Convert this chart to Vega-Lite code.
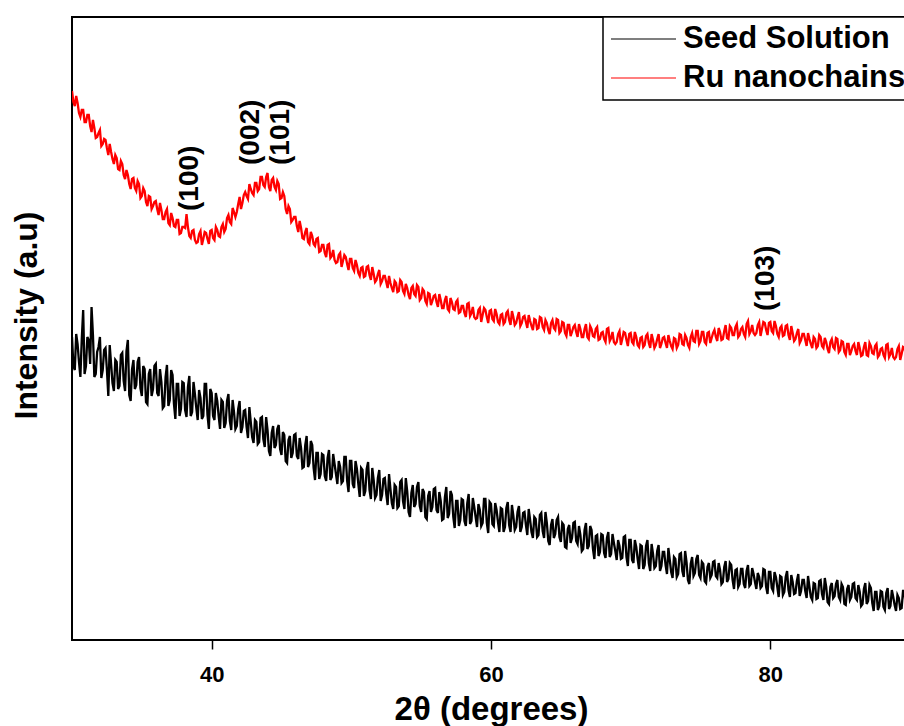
{
  "$schema": "https://vega.github.io/schema/vega-lite/v6.json",
  "autosize": "none",
  "padding": {"left": 72, "top": 17, "right": 0, "bottom": 86},
  "width": 838,
  "height": 623,
  "background": "white",
  "config": {
    "view": {"stroke": "black", "strokeWidth": 2},
    "font": "Liberation Sans",
    "legend": {"strokeWidth": 1.5}
  },
  "datasets": {
    "xrd": [
      {"x":30.0,"s":303,"r":549},{"x":30.2,"s":270,"r":534},{"x":30.4,"s":296,"r":537},{"x":30.6,"s":263,"r":523},{"x":30.8,"s":330,"r":530},
      {"x":31.0,"s":274,"r":518},{"x":31.2,"s":300,"r":525},{"x":31.4,"s":333,"r":508},{"x":31.6,"s":263,"r":512},{"x":31.8,"s":288,"r":503},
      {"x":32.0,"s":303,"r":510},{"x":32.2,"s":270,"r":496},{"x":32.4,"s":292,"r":500},{"x":32.6,"s":244,"r":485},{"x":32.8,"s":276,"r":488},
      {"x":33.0,"s":249,"r":476},{"x":33.2,"s":278,"r":482},{"x":33.4,"s":254,"r":470},{"x":33.6,"s":287,"r":476},{"x":33.8,"s":249,"r":461},
      {"x":34.0,"s":300,"r":465},{"x":34.2,"s":239,"r":451},{"x":34.4,"s":280,"r":462},{"x":34.6,"s":255,"r":449},{"x":34.8,"s":283,"r":456},
      {"x":35.0,"s":244,"r":444},{"x":35.2,"s":271,"r":449},{"x":35.4,"s":236,"r":434},{"x":35.6,"s":271,"r":443},{"x":35.8,"s":251,"r":434},
      {"x":36.0,"s":276,"r":439},{"x":36.2,"s":244,"r":425},{"x":36.4,"s":258,"r":430},{"x":36.6,"s":234,"r":421},{"x":36.8,"s":275,"r":431},
      {"x":37.0,"s":240,"r":415},{"x":37.2,"s":265,"r":422},{"x":37.4,"s":221,"r":413},{"x":37.6,"s":256,"r":420},{"x":37.8,"s":231,"r":407},
      {"x":38.0,"s":257,"r":413},{"x":38.2,"s":223,"r":426},{"x":38.4,"s":264,"r":404},{"x":38.6,"s":228,"r":409},{"x":38.8,"s":246,"r":400},
      {"x":39.0,"s":220,"r":398},{"x":39.2,"s":242,"r":409},{"x":39.4,"s":224,"r":401},{"x":39.6,"s":256,"r":407},{"x":39.8,"s":211,"r":396},
      {"x":40.0,"s":247,"r":410},{"x":40.2,"s":220,"r":400},{"x":40.4,"s":239,"r":410},{"x":40.6,"s":211,"r":403},{"x":40.8,"s":238,"r":416},
      {"x":41.0,"s":217,"r":411},{"x":41.2,"s":246,"r":425},{"x":41.4,"s":210,"r":416},{"x":41.6,"s":228,"r":428},{"x":41.8,"s":214,"r":428},
      {"x":42.0,"s":239,"r":443},{"x":42.2,"s":213,"r":437},{"x":42.4,"s":230,"r":448},{"x":42.6,"s":202,"r":441},{"x":42.8,"s":218,"r":451},
      {"x":43.0,"s":197,"r":445},{"x":43.2,"s":218,"r":457},{"x":43.4,"s":198,"r":451},{"x":43.6,"s":223,"r":463},{"x":43.8,"s":193,"r":453},
      {"x":44.0,"s":210,"r":467},{"x":44.2,"s":184,"r":449},{"x":44.4,"s":214,"r":462},{"x":44.6,"s":195,"r":450},{"x":44.8,"s":215,"r":456},
      {"x":45.0,"s":185,"r":442},{"x":45.2,"s":205,"r":444},{"x":45.4,"s":177,"r":426},{"x":45.6,"s":204,"r":431},{"x":45.8,"s":187,"r":420},
      {"x":46.0,"s":206,"r":423},{"x":46.2,"s":181,"r":408},{"x":46.4,"s":192,"r":412},{"x":46.6,"s":173,"r":401},{"x":46.8,"s":204,"r":412},
      {"x":47.0,"s":177,"r":396},{"x":47.2,"s":195,"r":404},{"x":47.4,"s":160,"r":394},{"x":47.6,"s":187,"r":402},{"x":47.8,"s":166,"r":389},
      {"x":48.0,"s":185,"r":395},{"x":48.2,"s":159,"r":383},{"x":48.4,"s":190,"r":396},{"x":48.6,"s":163,"r":384},{"x":48.8,"s":176,"r":380},
      {"x":49.0,"s":156,"r":378},{"x":49.2,"s":173,"r":387},{"x":49.4,"s":159,"r":379},{"x":49.6,"s":183,"r":383},{"x":49.8,"s":148,"r":370},
      {"x":50.0,"s":179,"r":381},{"x":50.2,"s":152,"r":369},{"x":50.4,"s":171,"r":375},{"x":50.6,"s":143,"r":364},{"x":50.8,"s":170,"r":373},
      {"x":51.0,"s":149,"r":364},{"x":51.2,"s":178,"r":374},{"x":51.4,"s":141,"r":360},{"x":51.6,"s":160,"r":366},{"x":51.8,"s":145,"r":360},
      {"x":52.0,"s":170,"r":370},{"x":52.2,"s":145,"r":359},{"x":52.4,"s":162,"r":364},{"x":52.6,"s":135,"r":352},{"x":52.8,"s":151,"r":357},
      {"x":53.0,"s":131,"r":348},{"x":53.2,"s":153,"r":357},{"x":53.4,"s":134,"r":349},{"x":53.6,"s":160,"r":358},{"x":53.8,"s":131,"r":346},
      {"x":54.0,"s":149,"r":352},{"x":54.2,"s":123,"r":341},{"x":54.4,"s":155,"r":354},{"x":54.6,"s":136,"r":344},{"x":54.8,"s":158,"r":353},
      {"x":55.0,"s":128,"r":342},{"x":55.2,"s":148,"r":349},{"x":55.4,"s":121,"r":336},{"x":55.6,"s":149,"r":346},{"x":55.8,"s":133,"r":339},
      {"x":56.0,"s":152,"r":345},{"x":56.2,"s":127,"r":333},{"x":56.4,"s":139,"r":340},{"x":56.6,"s":121,"r":332},{"x":56.8,"s":153,"r":344},
      {"x":57.0,"s":126,"r":329},{"x":57.2,"s":145,"r":338},{"x":57.4,"s":112,"r":330},{"x":57.6,"s":139,"r":340},{"x":57.8,"s":120,"r":328},
      {"x":58.0,"s":140,"r":334},{"x":58.2,"s":114,"r":323},{"x":58.4,"s":146,"r":337},{"x":58.6,"s":119,"r":327},{"x":58.8,"s":133,"r":323},
      {"x":59.0,"s":113,"r":322},{"x":59.2,"s":130,"r":332},{"x":59.4,"s":117,"r":325},{"x":59.6,"s":141,"r":330},{"x":59.8,"s":107,"r":317},
      {"x":60.0,"s":136,"r":330},{"x":60.2,"s":114,"r":319},{"x":60.4,"s":130,"r":326},{"x":60.6,"s":108,"r":316},{"x":60.8,"s":131,"r":326},
      {"x":61.0,"s":113,"r":318},{"x":61.2,"s":138,"r":329},{"x":61.4,"s":108,"r":315},{"x":61.6,"s":124,"r":323},{"x":61.8,"s":113,"r":317},
      {"x":62.0,"s":134,"r":328},{"x":62.2,"s":113,"r":317},{"x":62.4,"s":128,"r":324},{"x":62.6,"s":105,"r":312},{"x":62.8,"s":120,"r":319},
      {"x":63.0,"s":102,"r":310},{"x":63.2,"s":121,"r":320},{"x":63.4,"s":105,"r":312},{"x":63.6,"s":127,"r":322},{"x":63.8,"s":102,"r":310},
      {"x":64.0,"s":117,"r":317},{"x":64.2,"s":95,"r":306},{"x":64.4,"s":121,"r":320},{"x":64.6,"s":106,"r":310},{"x":64.8,"s":123,"r":320},
      {"x":65.0,"s":98,"r":309},{"x":65.2,"s":115,"r":317},{"x":65.4,"s":92,"r":304},{"x":65.6,"s":115,"r":315},{"x":65.8,"s":102,"r":308},
      {"x":66.0,"s":118,"r":315},{"x":66.2,"s":96,"r":303},{"x":66.4,"s":105,"r":311},{"x":66.6,"s":91,"r":303},{"x":66.8,"s":117,"r":316},
      {"x":67.0,"s":94,"r":301},{"x":67.2,"s":110,"r":311},{"x":67.4,"s":81,"r":303},{"x":67.6,"s":105,"r":313},{"x":67.8,"s":88,"r":301},
      {"x":68.0,"s":105,"r":308},{"x":68.2,"s":82,"r":298},{"x":68.4,"s":108,"r":312},{"x":68.6,"s":86,"r":302},{"x":68.8,"s":97,"r":298},
      {"x":69.0,"s":80,"r":298},{"x":69.2,"s":94,"r":309},{"x":69.4,"s":82,"r":301},{"x":69.6,"s":104,"r":307},{"x":69.8,"s":74,"r":294},
      {"x":70.0,"s":100,"r":307},{"x":70.2,"s":77,"r":296},{"x":70.4,"s":93,"r":303},{"x":70.6,"s":71,"r":293},{"x":70.8,"s":94,"r":303},
      {"x":71.0,"s":75,"r":295},{"x":71.2,"s":100,"r":306},{"x":71.4,"s":69,"r":292},{"x":71.6,"s":86,"r":300},{"x":71.8,"s":74,"r":295},
      {"x":72.0,"s":95,"r":306},{"x":72.2,"s":74,"r":296},{"x":72.4,"s":88,"r":303},{"x":72.6,"s":66,"r":292},{"x":72.8,"s":80,"r":299},
      {"x":73.0,"s":62,"r":291},{"x":73.2,"s":81,"r":301},{"x":73.4,"s":66,"r":295},{"x":73.6,"s":87,"r":305},{"x":73.8,"s":63,"r":295},
      {"x":74.0,"s":78,"r":302},{"x":74.2,"s":56,"r":292},{"x":74.4,"s":83,"r":307},{"x":74.6,"s":67,"r":298},{"x":74.8,"s":85,"r":309},
      {"x":75.0,"s":62,"r":299},{"x":75.2,"s":76,"r":308},{"x":75.4,"s":57,"r":296},{"x":75.6,"s":77,"r":308},{"x":75.8,"s":65,"r":302},
      {"x":76.0,"s":79,"r":310},{"x":76.2,"s":62,"r":299},{"x":76.4,"s":70,"r":308},{"x":76.6,"s":58,"r":301},{"x":76.8,"s":79,"r":315},
      {"x":77.0,"s":61,"r":301},{"x":77.2,"s":75,"r":312},{"x":77.4,"s":51,"r":305},{"x":77.6,"s":71,"r":316},{"x":77.8,"s":56,"r":305},
      {"x":78.0,"s":71,"r":313},{"x":78.2,"s":52,"r":303},{"x":78.4,"s":75,"r":319},{"x":78.6,"s":56,"r":309},{"x":78.8,"s":66,"r":307},
      {"x":79.0,"s":51,"r":307},{"x":79.2,"s":63,"r":318},{"x":79.4,"s":54,"r":311},{"x":79.6,"s":70,"r":317},{"x":79.8,"s":46,"r":305},
      {"x":80.0,"s":68,"r":318},{"x":80.2,"s":49,"r":307},{"x":80.4,"s":63,"r":314},{"x":80.6,"s":43,"r":303},{"x":80.8,"s":63,"r":314},
      {"x":81.0,"s":48,"r":305},{"x":81.2,"s":69,"r":315},{"x":81.4,"s":43,"r":300},{"x":81.6,"s":58,"r":307},{"x":81.8,"s":47,"r":301},
      {"x":82.0,"s":66,"r":311},{"x":82.2,"s":49,"r":300},{"x":82.4,"s":60,"r":306},{"x":82.6,"s":42,"r":294},{"x":82.8,"s":53,"r":301},
      {"x":83.0,"s":40,"r":292},{"x":83.2,"s":56,"r":301},{"x":83.4,"s":42,"r":294},{"x":83.6,"s":60,"r":303},{"x":83.8,"s":40,"r":292},
      {"x":84.0,"s":53,"r":298},{"x":84.2,"s":36,"r":287},{"x":84.4,"s":57,"r":301},{"x":84.6,"s":44,"r":291},{"x":84.8,"s":60,"r":301},
      {"x":85.0,"s":40,"r":290},{"x":85.2,"s":53,"r":298},{"x":85.4,"s":35,"r":285},{"x":85.6,"s":55,"r":296},{"x":85.8,"s":43,"r":289},
      {"x":86.0,"s":57,"r":296},{"x":86.2,"s":40,"r":285},{"x":86.4,"s":48,"r":292},{"x":86.6,"s":36,"r":285},{"x":86.8,"s":57,"r":298},
      {"x":87.0,"s":39,"r":284},{"x":87.2,"s":52,"r":294},{"x":87.4,"s":29,"r":286},{"x":87.6,"s":48,"r":296},{"x":87.8,"s":34,"r":285},
      {"x":88.0,"s":48,"r":292},{"x":88.2,"s":30,"r":282},{"x":88.4,"s":52,"r":296},{"x":88.6,"s":34,"r":286},{"x":88.8,"s":43,"r":283},
      {"x":89.0,"s":29,"r":283},{"x":89.2,"s":42,"r":294},{"x":89.4,"s":32,"r":286},{"x":89.6,"s":49,"r":292},{"x":89.8,"s":24,"r":280},
      {"x":90.0,"s":47,"r":293},
      {"x":30.1,"s":274,"r":538},{"x":30.3,"s":306,"r":544},{"x":30.5,"s":278,"r":527},{"x":30.7,"s":301,"r":530},{"x":30.9,"s":266,"r":518},
      {"x":31.1,"s":303,"r":525},{"x":31.3,"s":276,"r":514},{"x":31.5,"s":305,"r":520},{"x":31.7,"s":266,"r":502},{"x":31.9,"s":293,"r":507},
      {"x":32.1,"s":262,"r":494},{"x":32.3,"s":290,"r":501},{"x":32.5,"s":270,"r":492},{"x":32.7,"s":295,"r":496},{"x":32.9,"s":257,"r":481},
      {"x":33.1,"s":280,"r":485},{"x":33.3,"s":251,"r":471},{"x":33.5,"s":285,"r":479},{"x":33.7,"s":259,"r":465},{"x":33.9,"s":289,"r":470},
      {"x":34.1,"s":245,"r":456},{"x":34.3,"s":271,"r":461},{"x":34.5,"s":251,"r":452},{"x":34.7,"s":278,"r":459},{"x":34.9,"s":252,"r":442},
      {"x":35.1,"s":274,"r":452},{"x":35.3,"s":238,"r":438},{"x":35.5,"s":266,"r":444},{"x":35.7,"s":244,"r":431},{"x":35.9,"s":274,"r":438},
      {"x":36.1,"s":247,"r":431},{"x":36.3,"s":271,"r":437},{"x":36.5,"s":232,"r":421},{"x":36.7,"s":263,"r":428},{"x":36.9,"s":234,"r":417},
      {"x":37.1,"s":270,"r":427},{"x":37.3,"s":236,"r":414},{"x":37.5,"s":256,"r":420},{"x":37.7,"s":224,"r":406},{"x":37.9,"s":258,"r":413},
      {"x":38.1,"s":230,"r":412},{"x":38.3,"s":253,"r":413},{"x":38.5,"s":224,"r":402},{"x":38.7,"s":258,"r":410},{"x":38.9,"s":232,"r":397},
      {"x":39.1,"s":250,"r":406},{"x":39.3,"s":221,"r":395},{"x":39.5,"s":256,"r":408},{"x":39.7,"s":225,"r":401},{"x":39.9,"s":251,"r":409},
      {"x":40.1,"s":224,"r":402},{"x":40.3,"s":247,"r":413},{"x":40.5,"s":224,"r":404},{"x":40.7,"s":240,"r":413},{"x":40.9,"s":212,"r":408},
      {"x":41.1,"s":239,"r":422},{"x":41.3,"s":219,"r":418},{"x":41.5,"s":240,"r":432},{"x":41.7,"s":211,"r":423},{"x":41.9,"s":231,"r":436},
      {"x":42.1,"s":207,"r":431},{"x":42.3,"s":229,"r":445},{"x":42.5,"s":213,"r":444},{"x":42.7,"s":233,"r":456},{"x":42.9,"s":203,"r":447},
      {"x":43.1,"s":220,"r":457},{"x":43.3,"s":196,"r":449},{"x":43.5,"s":222,"r":463},{"x":43.7,"s":201,"r":455},{"x":43.9,"s":223,"r":463},
      {"x":44.1,"s":189,"r":453},{"x":44.3,"s":207,"r":460},{"x":44.5,"s":192,"r":453},{"x":44.7,"s":211,"r":459},{"x":44.9,"s":191,"r":441},
      {"x":45.1,"s":208,"r":448},{"x":45.3,"s":179,"r":431},{"x":45.5,"s":200,"r":434},{"x":45.7,"s":182,"r":418},{"x":45.9,"s":205,"r":423},
      {"x":46.1,"s":184,"r":414},{"x":46.3,"s":202,"r":419},{"x":46.5,"s":172,"r":402},{"x":46.7,"s":195,"r":408},{"x":46.9,"s":173,"r":398},
      {"x":47.1,"s":199,"r":408},{"x":47.3,"s":172,"r":396},{"x":47.5,"s":187,"r":401},{"x":47.7,"s":161,"r":388},{"x":47.9,"s":186,"r":395},
      {"x":48.1,"s":164,"r":387},{"x":48.3,"s":182,"r":395},{"x":48.5,"s":160,"r":382},{"x":48.7,"s":186,"r":390},{"x":48.9,"s":166,"r":377},
      {"x":49.1,"s":179,"r":385},{"x":49.3,"s":157,"r":373},{"x":49.5,"s":183,"r":385},{"x":49.7,"s":159,"r":376},{"x":49.9,"s":179,"r":381},
      {"x":50.1,"s":156,"r":372},{"x":50.3,"s":179,"r":380},{"x":50.5,"s":156,"r":367},{"x":50.7,"s":172,"r":372},{"x":50.9,"s":144,"r":363},
      {"x":51.1,"s":171,"r":373},{"x":51.3,"s":150,"r":365},{"x":51.5,"s":172,"r":373},{"x":51.7,"s":142,"r":358},{"x":51.9,"s":162,"r":366},
      {"x":52.1,"s":139,"r":356},{"x":52.3,"s":161,"r":364},{"x":52.5,"s":146,"r":358},{"x":52.7,"s":166,"r":364},{"x":52.9,"s":137,"r":352},
      {"x":53.1,"s":155,"r":359},{"x":53.3,"s":132,"r":348},{"x":53.5,"s":158,"r":360},{"x":53.7,"s":139,"r":349},{"x":53.9,"s":162,"r":356},
      {"x":54.1,"s":128,"r":345},{"x":54.3,"s":147,"r":352},{"x":54.5,"s":133,"r":346},{"x":54.7,"s":153,"r":355},{"x":54.9,"s":134,"r":340},
      {"x":55.1,"s":151,"r":351},{"x":55.3,"s":123,"r":339},{"x":55.5,"s":144,"r":347},{"x":55.7,"s":128,"r":335},{"x":55.9,"s":151,"r":344},
      {"x":56.1,"s":130,"r":338},{"x":56.3,"s":148,"r":346},{"x":56.5,"s":120,"r":332},{"x":56.7,"s":143,"r":340},{"x":56.9,"s":122,"r":331},
      {"x":57.1,"s":149,"r":342},{"x":57.3,"s":123,"r":331},{"x":57.5,"s":139,"r":338},{"x":57.7,"s":114,"r":327},{"x":57.9,"s":141,"r":334},
      {"x":58.1,"s":119,"r":327},{"x":58.3,"s":137,"r":336},{"x":58.5,"s":116,"r":324},{"x":58.7,"s":142,"r":333},{"x":58.9,"s":123,"r":321},
      {"x":59.1,"s":136,"r":330},{"x":59.3,"s":114,"r":318},{"x":59.5,"s":141,"r":332},{"x":59.7,"s":117,"r":323},{"x":59.9,"s":138,"r":329},
      {"x":60.1,"s":116,"r":321},{"x":60.3,"s":137,"r":331},{"x":60.5,"s":118,"r":318},{"x":60.7,"s":132,"r":325},{"x":60.9,"s":108,"r":316},
      {"x":61.1,"s":132,"r":327},{"x":61.3,"s":115,"r":320},{"x":61.5,"s":135,"r":329},{"x":61.7,"s":110,"r":315},{"x":61.9,"s":128,"r":323},
      {"x":62.1,"s":108,"r":314},{"x":62.3,"s":127,"r":323},{"x":62.5,"s":115,"r":318},{"x":62.7,"s":131,"r":325},{"x":62.9,"s":108,"r":314},
      {"x":63.1,"s":123,"r":321},{"x":63.3,"s":103,"r":311},{"x":63.5,"s":125,"r":323},{"x":63.7,"s":109,"r":313},{"x":63.9,"s":128,"r":320},
      {"x":64.1,"s":99,"r":310},{"x":64.3,"s":115,"r":317},{"x":64.5,"s":102,"r":312},{"x":64.7,"s":120,"r":321},{"x":64.9,"s":103,"r":307},
      {"x":65.1,"s":117,"r":318},{"x":65.3,"s":93,"r":307},{"x":65.5,"s":111,"r":315},{"x":65.7,"s":97,"r":304},{"x":65.9,"s":117,"r":313},
      {"x":66.1,"s":99,"r":308},{"x":66.3,"s":114,"r":316},{"x":66.5,"s":89,"r":303},{"x":66.7,"s":110,"r":311},{"x":66.9,"s":91,"r":303},
      {"x":67.1,"s":114,"r":314},{"x":67.3,"s":91,"r":304},{"x":67.5,"s":104,"r":311},{"x":67.7,"s":84,"r":300},{"x":67.9,"s":106,"r":307},
      {"x":68.1,"s":87,"r":301},{"x":68.3,"s":102,"r":311},{"x":68.5,"s":83,"r":299},{"x":68.7,"s":106,"r":308},{"x":68.9,"s":89,"r":296},
      {"x":69.1,"s":100,"r":306},{"x":69.3,"s":81,"r":295},{"x":69.5,"s":103,"r":308},{"x":69.7,"s":83,"r":300},{"x":69.9,"s":100,"r":306},
      {"x":70.1,"s":80,"r":298},{"x":70.3,"s":100,"r":308},{"x":70.5,"s":81,"r":295},{"x":70.7,"s":95,"r":302},{"x":70.9,"s":71,"r":293},
      {"x":71.1,"s":94,"r":304},{"x":71.3,"s":77,"r":297},{"x":71.5,"s":96,"r":306},{"x":71.7,"s":72,"r":292},{"x":71.9,"s":89,"r":301},
      {"x":72.1,"s":69,"r":292},{"x":72.3,"s":88,"r":302},{"x":72.5,"s":75,"r":297},{"x":72.7,"s":92,"r":305},{"x":72.9,"s":68,"r":294},
      {"x":73.1,"s":83,"r":302},{"x":73.3,"s":63,"r":292},{"x":73.5,"s":86,"r":306},{"x":73.7,"s":69,"r":296},{"x":73.9,"s":89,"r":305},
      {"x":74.1,"s":60,"r":295},{"x":74.3,"s":76,"r":303},{"x":74.5,"s":64,"r":299},{"x":74.7,"s":81,"r":309},{"x":74.9,"s":65,"r":296},
      {"x":75.1,"s":78,"r":308},{"x":75.3,"s":59,"r":298},{"x":75.5,"s":73,"r":307},{"x":75.7,"s":62,"r":297},{"x":75.9,"s":78,"r":307},
      {"x":76.1,"s":64,"r":303},{"x":76.3,"s":77,"r":312},{"x":76.5,"s":56,"r":300},{"x":76.7,"s":73,"r":309},{"x":76.9,"s":58,"r":302},
      {"x":77.1,"s":77,"r":314},{"x":77.3,"s":60,"r":305},{"x":77.5,"s":70,"r":313},{"x":77.7,"s":53,"r":303},{"x":77.9,"s":71,"r":311},
      {"x":78.1,"s":56,"r":306},{"x":78.3,"s":69,"r":316},{"x":78.5,"s":54,"r":306},{"x":78.7,"s":72,"r":315},{"x":78.9,"s":58,"r":305},
      {"x":79.1,"s":67,"r":315},{"x":79.3,"s":52,"r":304},{"x":79.5,"s":71,"r":318},{"x":79.7,"s":53,"r":310},{"x":79.9,"s":68,"r":317},
      {"x":80.1,"s":52,"r":309},{"x":80.3,"s":68,"r":319},{"x":80.5,"s":53,"r":306},{"x":80.7,"s":64,"r":312},{"x":80.9,"s":45,"r":304},
      {"x":81.1,"s":63,"r":314},{"x":81.3,"s":50,"r":305},{"x":81.5,"s":65,"r":314},{"x":81.7,"s":46,"r":299},{"x":81.9,"s":59,"r":307},
      {"x":82.1,"s":44,"r":297},{"x":82.3,"s":60,"r":306},{"x":82.5,"s":49,"r":300},{"x":82.7,"s":64,"r":307},{"x":82.9,"s":43,"r":296},
      {"x":83.1,"s":57,"r":303},{"x":83.3,"s":41,"r":292},{"x":83.5,"s":59,"r":305},{"x":83.7,"s":46,"r":294},{"x":83.9,"s":62,"r":302},
      {"x":84.1,"s":38,"r":291},{"x":84.3,"s":53,"r":298},{"x":84.5,"s":42,"r":293},{"x":84.7,"s":56,"r":302},{"x":84.9,"s":43,"r":288},
      {"x":85.1,"s":56,"r":299},{"x":85.3,"s":36,"r":288},{"x":85.5,"s":51,"r":296},{"x":85.7,"s":40,"r":285},{"x":85.9,"s":56,"r":294},
      {"x":86.1,"s":42,"r":289},{"x":86.3,"s":55,"r":298},{"x":86.5,"s":34,"r":284},{"x":86.7,"s":51,"r":293},{"x":86.9,"s":36,"r":285},
      {"x":87.1,"s":55,"r":297},{"x":87.3,"s":37,"r":287},{"x":87.5,"s":48,"r":294},{"x":87.7,"s":30,"r":283},{"x":87.9,"s":49,"r":291},
      {"x":88.1,"s":33,"r":285},{"x":88.3,"s":47,"r":295},{"x":88.5,"s":31,"r":283},{"x":88.7,"s":50,"r":292},{"x":88.9,"s":35,"r":281},
      {"x":89.1,"s":45,"r":291},{"x":89.3,"s":31,"r":280},{"x":89.5,"s":49,"r":293},{"x":89.7,"s":32,"r":285},{"x":89.9,"s":46,"r":292}
    ],
    "peaks": [
      {"x":38.44,"y":429,"label":"(100)"},
      {"x":42.81,"y":475,"label":"(002)"},
      {"x":44.96,"y":475,"label":"(101)"},
      {"x":79.70,"y":329,"label":"(103)"}
    ]
  },
  "layer": [
    {
      "data": {"name": "xrd"},
      "transform": [{"fold": ["s", "r"], "as": ["series", "intensity"]}],
      "mark": {"type": "line", "strokeWidth": 2.3, "clip": true},
      "encoding": {
        "x": {
          "field": "x", "type": "quantitative",
          "scale": {"domain": [30, 90], "nice": false, "zero": false},
          "axis": {
            "title": "2θ (degrees)",
            "values": [40, 60, 80],
            "grid": false,
            "domain": false,
            "tickSize": 9,
            "tickWidth": 1.5,
            "tickColor": "black",
            "labelFont": "Liberation Sans",
            "labelFontSize": 22,
            "labelFontWeight": "bold",
            "labelColor": "black",
            "labelBaseline": "alphabetic",
            "labelPadding": 32,
            "titleFont": "Liberation Sans",
            "titleFontSize": 33,
            "titleFontWeight": "bold",
            "titleColor": "black",
            "titleBaseline": "alphabetic",
            "titleY": 79
          }
        },
        "y": {
          "field": "intensity", "type": "quantitative",
          "scale": {"domain": [0, 623], "nice": false, "zero": false},
          "axis": {
            "title": "Intensity (a.u)",
            "labels": false,
            "ticks": false,
            "domain": false,
            "grid": false,
            "titleFont": "Liberation Sans",
            "titleFontSize": 32,
            "titleFontWeight": "bold",
            "titleColor": "black",
            "titleAngle": 270,
            "titleBaseline": "alphabetic",
            "titleAlign": "center",
            "titleX": -36,
            "titleY": 298
          }
        },
        "color": {
          "field": "series", "type": "nominal",
          "scale": {"domain": ["s", "r"], "range": ["black", "#ff0000"]},
          "legend": {
            "title": null,
            "orient": "none",
            "legendX": 531,
            "legendY": 0,
            "symbolType": "stroke",
            "symbolSize": 4225,
            "symbolStrokeWidth": 1.2,
            "clipHeight": 30,
            "labelFont": "Liberation Sans",
            "labelFontSize": 31,
            "labelFontWeight": "bold",
            "labelColor": "black",
            "labelOffset": 6,
            "labelLimit": 400,
            "labelExpr": "datum.value == 's' ? 'Seed Solution' : 'Ru nanochains'",
            "strokeColor": "black",
            "fillColor": "white",
            "padding": 7,
            "rowPadding": 8
          }
        }
      }
    },
    {
      "data": {"name": "peaks"},
      "mark": {"type": "text", "angle": 270, "align": "left", "baseline": "middle", "font": "Liberation Sans", "fontSize": 28, "fontWeight": "bold", "color": "black"},
      "encoding": {
        "x": {"field": "x", "type": "quantitative"},
        "y": {"field": "y", "type": "quantitative"},
        "text": {"field": "label"}
      }
    }
  ]
}
